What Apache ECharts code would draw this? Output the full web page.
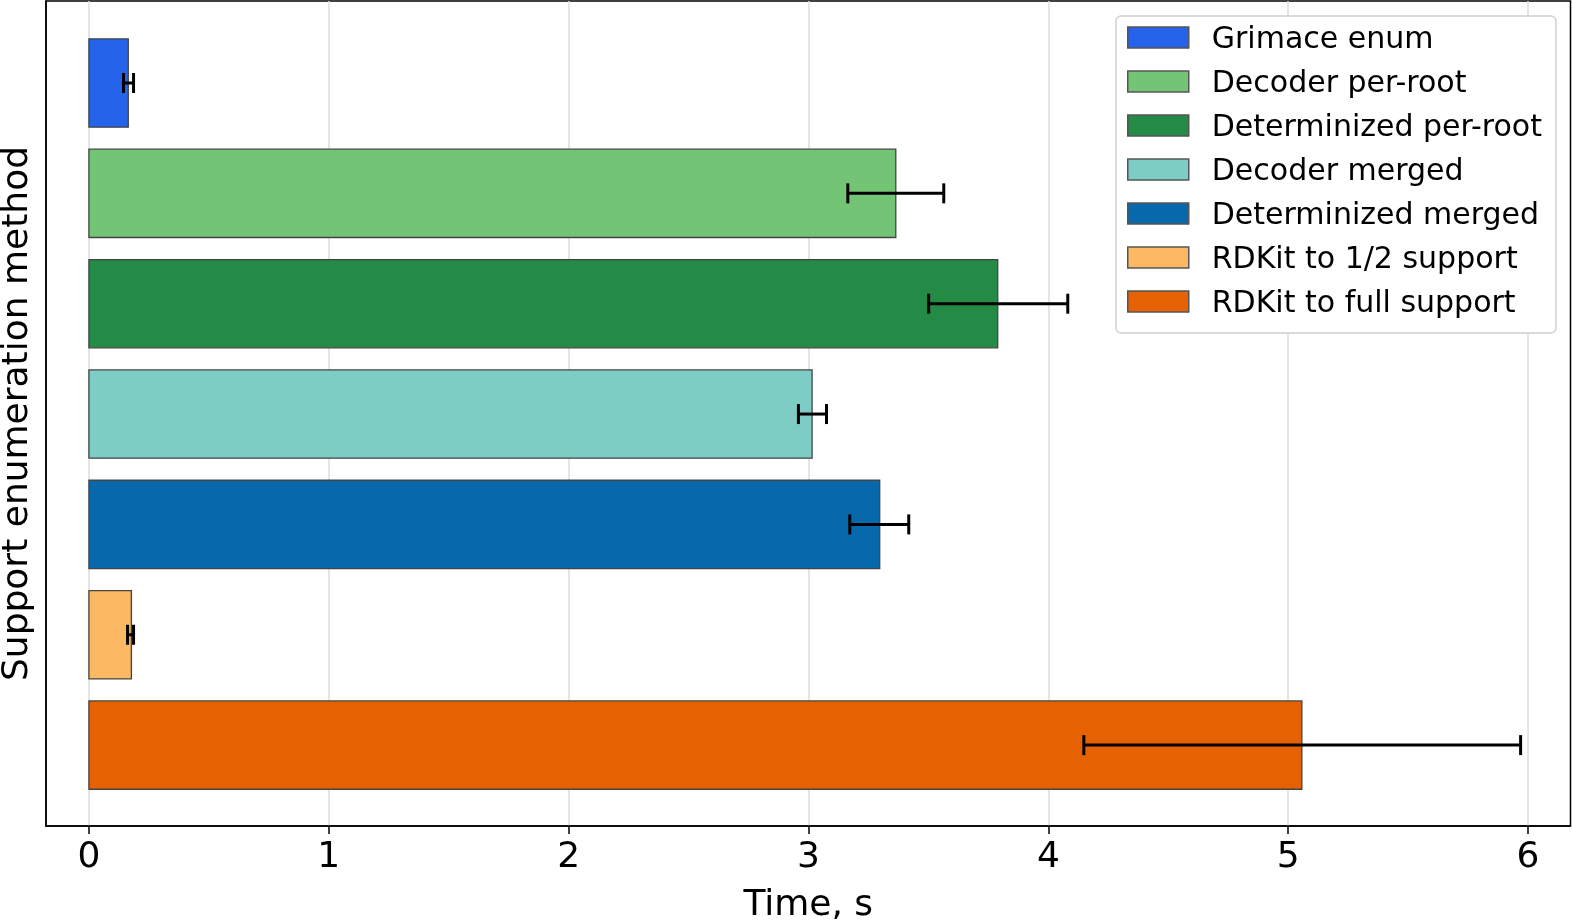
<!DOCTYPE html>
<html>
<head>
<meta charset="utf-8">
<title>Support enumeration time</title>
<script src="https://cdn.jsdelivr.net/npm/echarts@6/dist/echarts.min.js"></script>
<style>
  html, body { margin: 0; padding: 0; background: #fff; }
  #chart { width: 1572px; height: 924px; }
</style>
</head>
<body>
<div id="chart"></div>
<script>
// data
const methods = [
  "Grimace enum",
  "Decoder per-root",
  "Determinized per-root",
  "Decoder merged",
  "Determinized merged",
  "RDKit to 1/2 support",
  "RDKit to full support",
];
const meanTimes = [0.164, 3.364, 3.789, 3.015, 3.297, 0.177, 5.057];
const errLow = [0.144, 3.164, 3.501, 2.958, 3.172, 0.161, 4.148];
const errHigh = [0.186, 3.564, 4.081, 3.075, 3.418, 0.186, 5.969];
const barColors = ["#2563eb", "#74c476", "#238b45", "#7ecdc4", "#0868ac", "#fdb863", "#e66101"];
const xTicks = [0, 1, 2, 3, 4, 5, 6];

const FONT = "DejaVu Sans";
const chart = echarts.init(document.getElementById("chart"), null, { renderer: "canvas" });

// one custom series per method so each gets a legend entry
const barSeries = methods.map((name, i) => ({
  name: name,
  type: "custom",
  color: barColors[i],
  itemStyle: { color: barColors[i], borderColor: "#444", borderWidth: 1.5 },
  encode: { x: 0, y: 1 },
  data: [[meanTimes[i], i]],
  renderItem: function (params, api) {
    const v = api.value(0);
    const y = api.value(1);
    const start = api.coord([0, y]);
    const end = api.coord([v, y]);
    const h = api.size([0, 0.8])[1];
    return {
      type: "rect",
      shape: { x: start[0], y: start[1] - h / 2, width: end[0] - start[0], height: h },
      style: { fill: barColors[i], stroke: "#444", lineWidth: 1.3 },
    };
  },
}));

const errorSeries = {
  type: "custom",
  z: 10,
  encode: { x: [0, 1], y: 2 },
  data: methods.map((m, i) => [errLow[i], errHigh[i], i]),
  renderItem: function (params, api) {
    const y = api.value(2);
    const lo = api.coord([api.value(0), y]);
    const hi = api.coord([api.value(1), y]);
    const cap = 10;
    const st = { stroke: "#000", lineWidth: 3 };
    return {
      type: "group",
      children: [
        { type: "line", shape: { x1: lo[0], y1: lo[1], x2: hi[0], y2: hi[1] }, style: st },
        { type: "line", shape: { x1: lo[0], y1: lo[1] - cap, x2: lo[0], y2: lo[1] + cap }, style: st },
        { type: "line", shape: { x1: hi[0], y1: hi[1] - cap, x2: hi[0], y2: hi[1] + cap }, style: st },
      ],
    };
  },
};

const option = {
  animation: false,
  backgroundColor: "#fff",
  textStyle: { fontFamily: FONT },
  grid: {
    show: true,
    left: 46,
    right: 1.5,
    top: 1,
    bottom: 98,
    outerBoundsMode: "none",
    containLabel: false,
    borderColor: "#000",
    borderWidth: 1.5,
    backgroundColor: "transparent",
  },
  legend: {
    data: methods,
    orient: "vertical",
    left: 1116,
    top: 16,
    icon: "rect",
    itemWidth: 61,
    itemHeight: 21,
    itemGap: 14,
    padding: [9.5, 14, 13.5, 11],
    backgroundColor: "#fff",
    borderColor: "#d0d0d0",
    borderWidth: 1.5,
    borderRadius: 5,
    itemStyle: { borderColor: "#555", borderWidth: 1.5 },
    formatter: "{t|{name}}",
    textStyle: {
      fontFamily: FONT,
      fontSize: 30,
      color: "#000",
      padding: [0, 0, 0, 18],
      rich: {
        t: {
          fontFamily: FONT,
          fontSize: 30,
          color: "#000",
          lineHeight: 36,
          verticalAlign: "bottom",
        },
      },
    },
  },
  xAxis: {
    type: "value",
    min: -0.179,
    max: 6.177,
    name: "Time, s",
    nameLocation: "middle",
    nameGap: 62,
    nameTextStyle: { fontFamily: FONT, fontSize: 36, color: "#000" },
    axisLine: { show: true, onZero: false, lineStyle: { color: "#000", width: 1.5 } },
    axisTick: { show: true, length: 8, customValues: xTicks, lineStyle: { color: "#000", width: 1.5 } },
    axisLabel: {
      customValues: xTicks,
      margin: 14,
      fontFamily: FONT,
      fontSize: 36,
      color: "#000",
    },
    splitLine: { show: true, lineStyle: { color: "#dcdcdc", width: 1.5 } },
  },
  yAxis: {
    type: "value",
    inverse: true,
    min: -0.743,
    max: 6.733,
    name: "Support enumeration method",
    nameLocation: "middle",
    nameRotate: 90,
    nameGap: 10,
    nameTextStyle: { fontFamily: FONT, fontSize: 36, color: "#000" },
    axisLine: { show: true, onZero: false, lineStyle: { color: "#000", width: 1.5 } },
    axisTick: { show: false },
    axisLabel: { show: false },
    splitLine: { show: false },
  },
  series: barSeries.concat([errorSeries]),
};

chart.setOption(option);
</script>
</body>
</html>
